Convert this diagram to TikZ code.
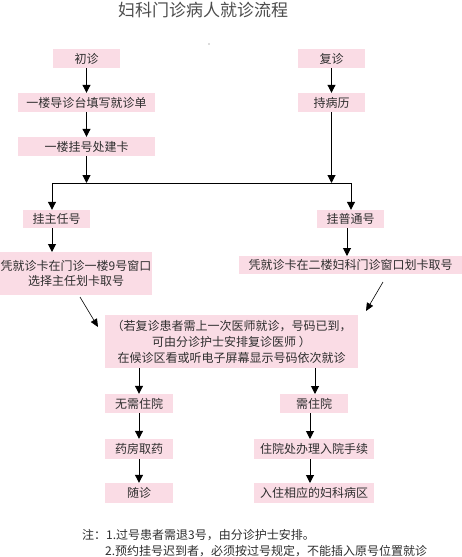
\documentclass[tikz,border=0pt]{standalone}
\usepackage{fontspec}
\newfontfamily\cjk{Noto Sans CJK SC}
\usetikzlibrary{arrows.meta}
\definecolor{boxpink}{HTML}{FADCE5}
\definecolor{txt}{HTML}{2E2E2E}
\tikzset{
  pbox/.style={fill=boxpink, inner sep=0pt, anchor=center, font=\cjk\fontsize{12}{15}\selectfont, text=txt, align=center},
  arr/.style={line width=1pt, -{Triangle[width=8pt,length=8pt]}},
  thinarr/.style={line width=0.6pt, -{Triangle[width=7pt,length=8pt]}},
  ln/.style={line width=1pt}
}
\begin{document}
\begin{tikzpicture}[x=1pt,y=-1pt]
\useasboundingbox (0,0) rectangle (462,557);
\node[font=\cjk\fontsize{17}{19}\selectfont, text=black!70, anchor=center, inner sep=0pt] (title) at (203,10) {妇科门诊病人就诊流程};
\fill[black!60] (209,44) circle (0.6);
% boxes
\node[pbox, minimum width=67pt, minimum height=19pt] (chu) at (86.5,58.5) {初诊};
\node[pbox, minimum width=67pt, minimum height=19pt] (fu) at (331.5,58.5) {复诊};
\node[pbox, minimum width=137pt, minimum height=19pt] (tian) at (86.5,102.5) {一楼导诊台填写就诊单};
\node[pbox, minimum width=67pt, minimum height=19pt] (chi) at (331.5,102.5) {持病历};
\node[pbox, minimum width=137pt, minimum height=19pt] (jian) at (86.5,146.5) {一楼挂号处建卡};
\node[pbox, minimum width=67pt, minimum height=18pt] (zhuren) at (56.5,219) {挂主任号};
\node[pbox, minimum width=67pt, minimum height=18pt] (putong) at (350.5,219) {挂普通号};
\node[pbox, minimum width=152pt, minimum height=43pt] (left2) at (76,273.5) {凭就诊卡在门诊一楼9号窗口\\选择主任划卡取号};
\node[pbox, minimum width=223pt, minimum height=18pt] (right2) at (350.5,265) {凭就诊卡在二楼妇科门诊窗口划卡取号};
\node[pbox, minimum width=253pt, minimum height=53pt, font=\cjk\fontsize{12}{16}\selectfont] (mid) at (231.5,341.5) {（若复诊患者需上一次医师就诊，号码已到，\\可由分诊护士安排复诊医师 ）\\在候诊区看或听电子屏幕显示号码依次就诊};
\node[pbox, minimum width=68pt, minimum height=19pt] (wuxu) at (139,403.5) {无需住院};
\node[pbox, minimum width=68pt, minimum height=19pt] (xu) at (314,403.5) {需住院};
\node[pbox, minimum width=68pt, minimum height=20pt] (yao) at (139,449) {药房取药};
\node[pbox, minimum width=120pt, minimum height=20pt] (zhuyuan) at (314,449) {住院处办理入院手续};
\node[pbox, minimum width=68pt, minimum height=20pt] (sui) at (139,493) {随诊};
\node[pbox, minimum width=120pt, minimum height=20pt] (ruzhu) at (314,493) {入住相应的妇科病区};
% note
\node[font=\cjk\fontsize{12}{16}\selectfont, text=txt, anchor=west, inner sep=0pt] (note1) at (82,535) {注：1.过号患者需退3号，由分诊护士安排。};
\node[font=\cjk\fontsize{12}{16}\selectfont, text=txt, anchor=west, inner sep=0pt] (note2) at (105,551) {2.预约挂号迟到者，必须按过号规定，不能插入原号位置就诊};
% connectors
\coordinate (jl) at (52,183);
\coordinate (jr) at (351,183);
\coordinate (ja) at (86.5,183);
\coordinate (jb) at (331.5,183);
\draw[arr] (chu) -- (tian);
\draw[arr] (fu) -- (chi);
\draw[arr] (tian) -- (jian);
\draw[arr] (jian) -- (ja);
\draw[arr] (chi) -- (jb);
\draw[ln] (jl) -- (jr);
\draw[arr] (jl) -- (jl |- zhuren.north);
\draw[arr] (jr) -- (jr |- putong.north);
\draw[arr] (52,228) -- (52,252);
\draw[arr] (347,228) -- (347,256);
\coordinate (dl) at (98,327);
\coordinate (dr) at (366,311);
\draw[thinarr] (80,297) -- (dl);
\draw[thinarr] (383,282) -- (dr);
\draw[arr] (139,368) -- (wuxu.north);
\draw[arr] (315,368) -- (315,394);
\draw[arr] (wuxu) -- (yao);
\draw[arr] (yao) -- (sui);
\draw[arr] (310,413) -- (310,439);
\draw[arr] (310,459) -- (310,483);
\end{tikzpicture}
\end{document}
